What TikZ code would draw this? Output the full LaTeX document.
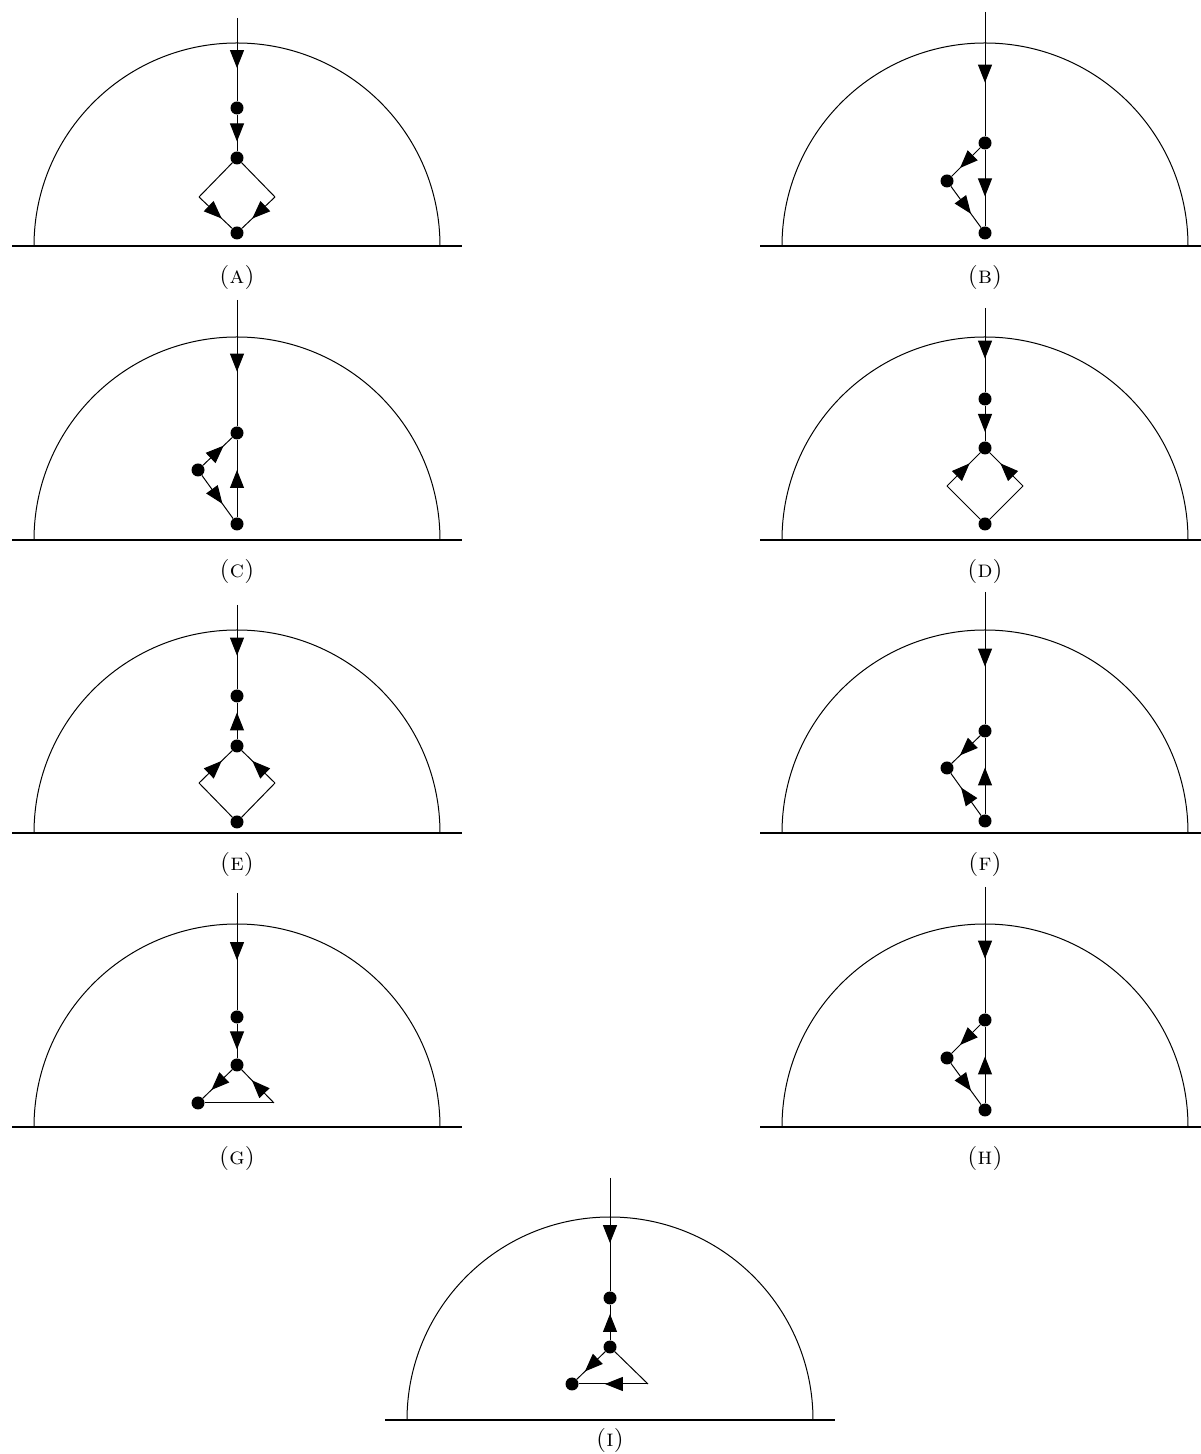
\documentclass[tikz,border=0pt]{standalone}
\usepackage{fontspec}
\usetikzlibrary{arrows.meta,decorations.markings}
\tikzset{
  dotnode/.style={circle,fill=black,inner sep=0pt,minimum size=13pt},
  wire/.style={line width=1pt},
  midarrow/.style={wire,postaction={decorate},decoration={markings,mark=at position 0.5 with {\arrow[xshift=8.5pt]{Triangle[length=18pt,width=14pt]}}}},
  dome/.style={line width=1pt},
  ground/.style={line width=1.3pt},
  sublabel/.style={font=\fontsize{24}{28}\selectfont,inner sep=0pt}
}
\newcommand\domeframe{%
  \draw[ground] (-225,0) -- (225,0);
  \draw[dome] (-203,0) arc (180:0:203);
}
\begin{document}
\begin{tikzpicture}[x=1pt,y=1pt]
\useasboundingbox (0,0) rectangle (1201,1454);
% ---------- A ----------
\begin{scope}[shift={(237,1208)}]
  \domeframe
  \node[sublabel] (labA) at (0,-32) {\textsc{(a)}};
  \coordinate (topA) at (0,228);
  \node[dotnode] (a1) at (0,138) {};
  \node[dotnode] (a2) at (0,88) {};
  \coordinate (aL) at (-38,49);
  \coordinate (aR) at (38,49);
  \node[dotnode] (a3) at (0,13) {};
  \draw[midarrow] (topA) -- (a1);
  \draw[midarrow] (a1) -- (a2);
  \draw[wire] (a2) -- (aL);
  \draw[wire] (a2) -- (aR);
  \draw[midarrow] (aL) -- (a3);
  \draw[midarrow] (aR) -- (a3);
\end{scope}
% ---------- B ----------
\begin{scope}[shift={(985,1208)}]
  \domeframe
  \node[sublabel] (labB) at (0,-32) {\textsc{(b)}};
  \coordinate (topB) at (0,234);
  \node[dotnode] (b1) at (0,103) {};
  \node[dotnode] (bL) at (-38,65) {};
  \node[dotnode] (b3) at (0,13) {};
  \draw[midarrow] (topB) -- (b1);
  \draw[midarrow] (b1) -- (bL);
  \draw[midarrow] (bL) -- (b3);
  \draw[midarrow] (b1) -- (b3);
\end{scope}
% ---------- C ----------
\begin{scope}[shift={(237,914)}]
  \domeframe
  \node[sublabel] (labC) at (0,-32) {\textsc{(c)}};
  \coordinate (topC) at (0,240);
  \node[dotnode] (c1) at (0,107) {};
  \node[dotnode] (cL) at (-39,70) {};
  \node[dotnode] (c3) at (0,16) {};
  \draw[midarrow] (topC) -- (c1);
  \draw[midarrow] (cL) -- (c1);
  \draw[midarrow] (cL) -- (c3);
  \draw[midarrow] (c3) -- (c1);
\end{scope}
% ---------- D ----------
\begin{scope}[shift={(985,914)}]
  \domeframe
  \node[sublabel] (labD) at (0,-32) {\textsc{(d)}};
  \coordinate (topD) at (0,232);
  \node[dotnode] (d1) at (0,141) {};
  \node[dotnode] (d2) at (0,92) {};
  \coordinate (dL) at (-38,54);
  \coordinate (dR) at (38,54);
  \node[dotnode] (d3) at (0,16) {};
  \draw[midarrow] (topD) -- (d1);
  \draw[midarrow] (d1) -- (d2);
  \draw[wire] (d3) -- (dL);
  \draw[wire] (d3) -- (dR);
  \draw[midarrow] (dL) -- (d2);
  \draw[midarrow] (dR) -- (d2);
\end{scope}
% ---------- E ----------
\begin{scope}[shift={(237,621)}]
  \domeframe
  \node[sublabel] (labE) at (0,-32) {\textsc{(e)}};
  \coordinate (topE) at (0,228);
  \node[dotnode] (e1) at (0,137) {};
  \node[dotnode] (e2) at (0,87) {};
  \coordinate (eL) at (-38,50);
  \coordinate (eR) at (38,50);
  \node[dotnode] (e3) at (0,11) {};
  \draw[midarrow] (topE) -- (e1);
  \draw[midarrow] (e2) -- (e1);
  \draw[wire] (e3) -- (eL);
  \draw[wire] (e3) -- (eR);
  \draw[midarrow] (eL) -- (e2);
  \draw[midarrow] (eR) -- (e2);
\end{scope}
% ---------- F ----------
\begin{scope}[shift={(985,621)}]
  \domeframe
  \node[sublabel] (labF) at (0,-32) {\textsc{(f)}};
  \coordinate (topF) at (0,241);
  \node[dotnode] (f1) at (0,102) {};
  \node[dotnode] (fL) at (-38,65) {};
  \node[dotnode] (f3) at (0,12) {};
  \draw[midarrow] (topF) -- (f1);
  \draw[midarrow] (f1) -- (fL);
  \draw[midarrow] (f3) -- (fL);
  \draw[midarrow] (f3) -- (f1);
\end{scope}
% ---------- G ----------
\begin{scope}[shift={(237,327)}]
  \domeframe
  \node[sublabel] (labG) at (0,-32) {\textsc{(g)}};
  \coordinate (topG) at (0,234);
  \node[dotnode] (g1) at (0,110) {};
  \node[dotnode] (g2) at (0,62) {};
  \node[dotnode] (gL) at (-39,24) {};
  \coordinate (gR) at (37,24);
  \draw[midarrow] (topG) -- (g1);
  \draw[midarrow] (g1) -- (g2);
  \draw[midarrow] (g2) -- (gL);
  \draw[midarrow] (gR) -- (g2);
  \draw[wire] (gL) -- (gR);
\end{scope}
% ---------- H ----------
\begin{scope}[shift={(985,327)}]
  \domeframe
  \node[sublabel] (labH) at (0,-32) {\textsc{(h)}};
  \coordinate (topH) at (0,240);
  \node[dotnode] (h1) at (0,107) {};
  \node[dotnode] (hL) at (-38,69) {};
  \node[dotnode] (h3) at (0,17) {};
  \draw[midarrow] (topH) -- (h1);
  \draw[midarrow] (h1) -- (hL);
  \draw[midarrow] (hL) -- (h3);
  \draw[midarrow] (h3) -- (h1);
\end{scope}
% ---------- I ----------
\begin{scope}[shift={(610,34)}]
  \domeframe
  \node[sublabel] (labI) at (0,-21) {\textsc{(i)}};
  \coordinate (topI) at (0,242);
  \node[dotnode] (i1) at (0,122) {};
  \node[dotnode] (i2) at (0,73) {};
  \node[dotnode] (iL) at (-38,36) {};
  \coordinate (iR) at (38,36);
  \draw[midarrow] (topI) -- (i1);
  \draw[midarrow] (i2) -- (i1);
  \draw[midarrow] (i2) -- (iL);
  \draw[midarrow] (iR) -- (iL);
  \draw[wire] (i2) -- (iR);
\end{scope}
\end{tikzpicture}
\end{document}
